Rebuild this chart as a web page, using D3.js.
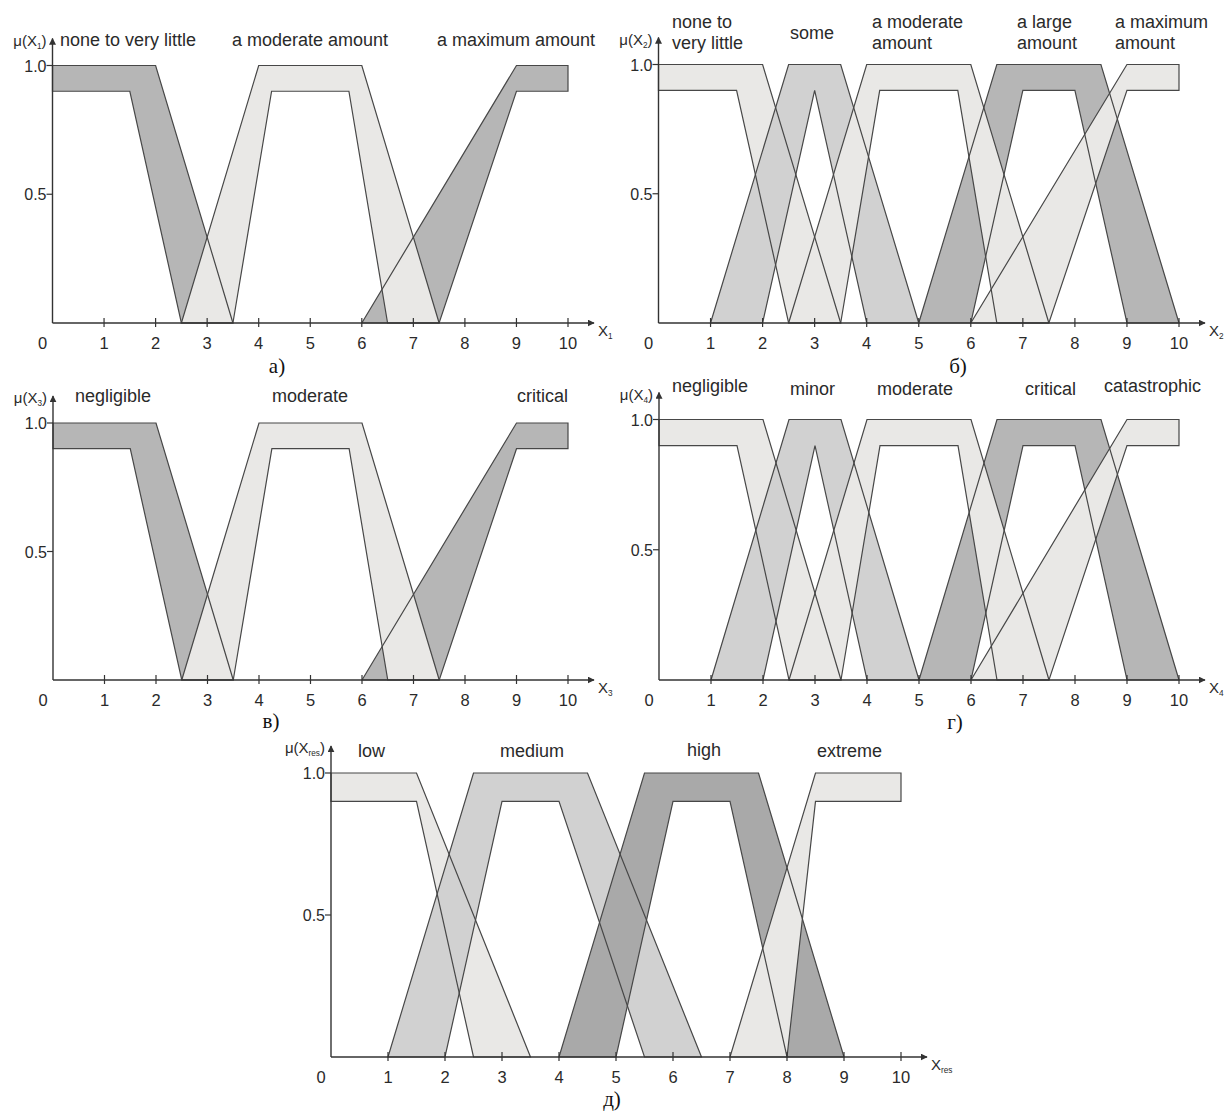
<!DOCTYPE html>
<html>
<head>
<meta charset="utf-8">
<script src="https://cdn.jsdelivr.net/npm/d3@7"></script>
<style>
  body { margin: 0; background: #fff; }
  text { font-family: Arial, "Liberation Sans", sans-serif; fill: #2a2a2a; }
  .sub { font-family: "Times New Roman", "Liberation Serif", serif; fill: #111; }
</style>
</head>
<body>
<svg id="chart" width="1226" height="1113"></svg>
<script>
// values
var xTicks = [0, 1, 2, 3, 4, 5, 6, 7, 8, 9, 10];
var yTicks = [0.5, 1.0];

// 3-term sets (panels a and в): upper and lower membership functions
var upper3 = [
  [[0, 1], [2, 1], [3.5, 0]],
  [[2.5, 0], [4, 1], [6, 1], [7.5, 0]],
  [[6, 0], [9, 1], [10, 1]]
];
var lower3 = [
  [[0, 0.9], [1.5, 0.9], [2.5, 0]],
  [[3.5, 0], [4.25, 0.9], [5.75, 0.9], [6.5, 0]],
  [[7.5, 0], [9, 0.9], [10, 0.9]]
];

// 5-term sets (panels б and г)
var upper5 = [
  [[0, 1], [2, 1], [3.5, 0]],
  [[1, 0], [2.5, 1], [3.5, 1], [5, 0]],
  [[2.5, 0], [4, 1], [6, 1], [7.5, 0]],
  [[5, 0], [6.5, 1], [8.5, 1], [10, 0]],
  [[6, 0], [9, 1], [10, 1]]
];
var lower5 = [
  [[0, 0.9], [1.5, 0.9], [2.5, 0]],
  [[2, 0], [3, 0.9], [4, 0]],
  [[3.5, 0], [4.25, 0.9], [5.75, 0.9], [6.5, 0]],
  [[6, 0], [7, 0.9], [8, 0.9], [9, 0]],
  [[7.5, 0], [9, 0.9], [10, 0.9]]
];

// result sets (panel д)
var upperRes = [
  [[0, 1], [1.5, 1], [3.5, 0]],
  [[1, 0], [2.5, 1], [4.5, 1], [6.5, 0]],
  [[4, 0], [5.5, 1], [7.5, 1], [9, 0]],
  [[7, 0], [8.5, 1], [10, 1]]
];
var lowerRes = [
  [[0, 0.9], [1.5, 0.9], [2.5, 0]],
  [[2, 0], [3, 0.9], [4, 0.9], [5.5, 0]],
  [[5, 0], [6, 0.9], [7, 0.9], [8, 0]],
  [[8, 0], [8.5, 0.9], [10, 0.9]]
];

var termsX1 = [["none to very little"], ["a moderate amount"], ["a maximum amount"]];
var termsX2 = [["none to", "very little"], ["some"], ["a moderate", "amount"], ["a large", "amount"], ["a maximum", "amount"]];
var termsX3 = [["negligible"], ["moderate"], ["critical"]];
var termsX4 = [["negligible"], ["minor"], ["moderate"], ["critical"], ["catastrophic"]];
var termsRes = [["low"], ["medium"], ["high"], ["extreme"]];

// greys
var LIGHT = "#e9e8e6", MID = "#d1d1d1", DARK = "#b6b6b6", DARKER = "#a9a9a9";

// panel layout (pixels)
var panels = [
  {upper: upper3, lower: lower3, fills: [DARK, LIGHT, DARK], order: [0, 2, 1],
   terms: termsX1, sub: "1", caption: "а)",
   x0: 52.5, x10: 568, y0: 323, y1: 65.5,
   labelPos: [[60, 46], [232, 46], [437, 46]], capPos: [277, 373]},
  {upper: upper5, lower: lower5, fills: [LIGHT, MID, LIGHT, DARK, LIGHT], order: [0, 1, 3, 2, 4],
   terms: termsX2, sub: "2", caption: "б)",
   x0: 658.5, x10: 1179, y0: 323, y1: 64.5,
   labelPos: [[672, 28], [790, 39], [872, 28], [1017, 28], [1115, 28]], capPos: [958, 373]},
  {upper: upper3, lower: lower3, fills: [DARK, LIGHT, DARK], order: [0, 2, 1],
   terms: termsX3, sub: "3", caption: "в)",
   x0: 53, x10: 568, y0: 680, y1: 423,
   labelPos: [[75, 402], [272, 402], [517, 402]], capPos: [271, 728]},
  {upper: upper5, lower: lower5, fills: [LIGHT, MID, LIGHT, DARK, LIGHT], order: [0, 1, 3, 2, 4],
   terms: termsX4, sub: "4", caption: "г)",
   x0: 659, x10: 1179, y0: 680, y1: 419.5,
   labelPos: [[672, 392], [790, 395], [877, 395], [1025, 395], [1104, 392]], capPos: [955, 729]},
  {upper: upperRes, lower: lowerRes, fills: [LIGHT, MID, DARKER, LIGHT], order: [0, 1, 2, 3],
   terms: termsRes, sub: "res", caption: "д)",
   x0: 331, x10: 901, y0: 1057, y1: 773,
   labelPos: [[358, 757], [500, 757], [687, 756], [817, 757]], capPos: [612, 1106]}
];

var svg = d3.select("#chart");
svg.append("rect").attr("width", 1226).attr("height", 1113).attr("fill", "#fff");

var defs = svg.append("defs");
defs.append("marker")
  .attr("id", "arrow")
  .attr("viewBox", "0 0 10 10")
  .attr("refX", 9).attr("refY", 5)
  .attr("markerWidth", 7).attr("markerHeight", 7)
  .attr("markerUnits", "userSpaceOnUse")
  .attr("orient", "auto")
  .append("path").attr("d", "M0,0L10,5L0,10Z").attr("fill", "#333");

function subText(g, x, y, main, sub, anchor, size){
  var t = g.append("text").attr("x", x).attr("y", y)
    .attr("text-anchor", anchor).style("font-size", size + "px");
  t.append("tspan").text(main);
  t.append("tspan").attr("dy", 3).style("font-size", (size * 0.55) + "px").text(sub);
  return t;
}

panels.forEach(function(p){
  var x = d3.scaleLinear().domain([0, 10]).range([p.x0, p.x10]);
  var y = d3.scaleLinear().domain([0, 1]).range([p.y0, p.y1]);
  var g = svg.append("g");

  var line = d3.line().x(function(d){ return x(d[0]); }).y(function(d){ return y(d[1]); });

  // bands between upper and lower MF
  p.order.forEach(function(i){
    var pts = p.upper[i].concat(p.lower[i].slice().reverse());
    g.append("path")
      .attr("d", line(pts) + "Z")
      .attr("fill", p.fills[i])
      .attr("stroke", "none");
  });
  // outlines on top
  p.order.forEach(function(i){
    var pts = p.upper[i].concat(p.lower[i].slice().reverse());
    g.append("path")
      .attr("d", line(pts) + "Z")
      .attr("fill", "none")
      .attr("stroke", "#474747")
      .attr("stroke-width", 1.2)
      .attr("stroke-linejoin", "miter");
  });

  // axes
  g.append("line")
    .attr("x1", p.x0).attr("y1", p.y0)
    .attr("x2", p.x0).attr("y2", p.y1 - 27)
    .attr("stroke", "#333").attr("stroke-width", 1.4)
    .attr("marker-end", "url(#arrow)");
  g.append("line")
    .attr("x1", p.x0).attr("y1", p.y0)
    .attr("x2", p.x10 + 26).attr("y2", p.y0)
    .attr("stroke", "#333").attr("stroke-width", 1.4)
    .attr("marker-end", "url(#arrow)");

  // x ticks
  g.selectAll(".xt").data(xTicks.filter(function(d){ return d > 0; })).enter()
    .append("line")
    .attr("x1", function(d){ return x(d); }).attr("x2", function(d){ return x(d); })
    .attr("y1", p.y0 - 5).attr("y2", p.y0 + 4)
    .attr("stroke", "#333").attr("stroke-width", 1.2);
  g.selectAll(".xl").data(xTicks).enter()
    .append("text")
    .attr("x", function(d){ return d === 0 ? x(d) - 10 : x(d); })
    .attr("y", p.y0 + 26)
    .attr("text-anchor", "middle")
    .style("font-size", "16.5px")
    .text(function(d){ return d; });

  // y ticks
  g.selectAll(".yt").data(yTicks).enter()
    .append("line")
    .attr("x1", p.x0 - 6).attr("x2", p.x0)
    .attr("y1", function(d){ return y(d); }).attr("y2", function(d){ return y(d); })
    .attr("stroke", "#333").attr("stroke-width", 1.2);
  g.selectAll(".yl").data(yTicks).enter()
    .append("text")
    .attr("x", p.x0 - 6)
    .attr("y", function(d){ return y(d) + 6; })
    .attr("text-anchor", "end")
    .style("font-size", "16px")
    .text(function(d){ return d3.format(".1f")(d); });

  // axis names
  var mu = subText(g, p.x0 - 6, p.y1 - 20, "μ(X", p.sub, "end", 15);
  mu.append("tspan").attr("dy", -3).text(")");
  subText(g, p.x10 + 30, p.y0 + 13, "X", p.sub, "start", 15);

  // term labels
  p.terms.forEach(function(lines, i){
    lines.forEach(function(s, k){
      g.append("text")
        .attr("x", p.labelPos[i][0])
        .attr("y", p.labelPos[i][1] + k * 21)
        .style("font-size", "18px")
        .text(s);
    });
  });

  // caption
  g.append("text").attr("class", "sub")
    .attr("x", p.capPos[0]).attr("y", p.capPos[1])
    .attr("text-anchor", "middle")
    .style("font-size", "21px")
    .text(p.caption);
});
</script>
</body>
</html>
